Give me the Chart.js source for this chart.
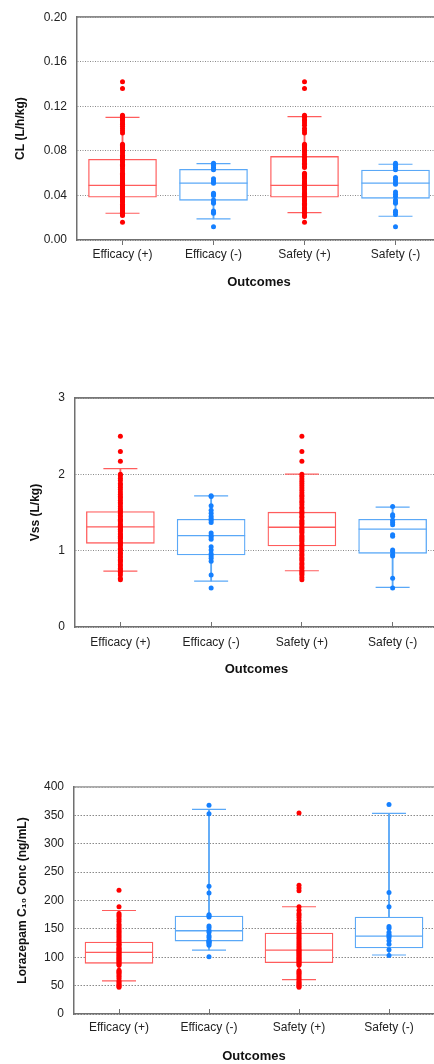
<!DOCTYPE html>
<html>
<head>
<meta charset="utf-8">
<script src="https://cdn.jsdelivr.net/npm/chart.js@4.4.1/dist/chart.umd.min.js"></script>
<style>
html, body { margin: 0; padding: 0; background: #ffffff; width: 434px; height: 1064px; overflow: hidden; position: relative; }
.wrap { position: absolute; left: 0; }
canvas { display: block; }
</style>
</head>
<body>
<div class="wrap" style="top:0px"><canvas id="c1" width="441" height="300"></canvas></div>
<div class="wrap" style="top:330px"><canvas id="c2" width="438" height="357"></canvas></div>
<div class="wrap" style="top:760px"><canvas id="c3" width="434" height="314"></canvas></div>
<script>
// ---------- shared ----------
const categories = ['Efficacy (+)', 'Efficacy (-)', 'Safety (+)', 'Safety (-)'];
const xTitle = 'Outcomes';

// ---------- Chart 1: CL ----------
const clTitle = 'CL (L/h/kg)';
const clTicks = [0, 0.04, 0.08, 0.12, 0.16, 0.20];
const clTickLabels = ['0.00', '0.04', '0.08', '0.12', '0.16', '0.20'];
const clQ1 = [0.0385, 0.0356, 0.0385, 0.0374];
const clMedian = [0.049, 0.0511, 0.049, 0.0511];
const clQ3 = [0.0724, 0.0634, 0.075, 0.0628];
const clWhiskLow = [0.024, 0.019, 0.0245, 0.0213];
const clWhiskHigh = [0.110, 0.0686, 0.1107, 0.068];
const clEffPos = [0.016, 0.022, 0.023, 0.024, 0.025, 0.026, 0.027, 0.028, 0.029, 0.030, 0.031, 0.032, 0.034, 0.035, 0.036, 0.037, 0.038, 0.039, 0.040, 0.041, 0.042, 0.043, 0.044, 0.045, 0.046, 0.047, 0.048, 0.049, 0.050, 0.051, 0.052, 0.053, 0.054, 0.055, 0.056, 0.057, 0.058, 0.059, 0.060, 0.062, 0.064, 0.066, 0.067, 0.068, 0.070, 0.071, 0.072, 0.073, 0.074, 0.075, 0.076, 0.078, 0.080, 0.081, 0.082, 0.083, 0.084, 0.085, 0.086, 0.096, 0.098, 0.100, 0.102, 0.104, 0.105, 0.107, 0.108, 0.109, 0.110, 0.111, 0.112, 0.136, 0.142];
const clEffNeg = [0.012, 0.024, 0.025, 0.026, 0.033, 0.034, 0.036, 0.040, 0.041, 0.042, 0.051, 0.052, 0.053, 0.055, 0.063, 0.064, 0.065, 0.067, 0.068, 0.069];
const clSafPos = [0.016, 0.021, 0.022, 0.024, 0.025, 0.027, 0.028, 0.029, 0.031, 0.032, 0.033, 0.035, 0.036, 0.037, 0.039, 0.040, 0.041, 0.042, 0.043, 0.045, 0.046, 0.047, 0.048, 0.050, 0.051, 0.052, 0.053, 0.055, 0.056, 0.057, 0.058, 0.059, 0.060, 0.065, 0.066, 0.068, 0.069, 0.071, 0.072, 0.074, 0.075, 0.077, 0.079, 0.080, 0.081, 0.082, 0.083, 0.084, 0.085, 0.086, 0.096, 0.098, 0.100, 0.103, 0.105, 0.107, 0.108, 0.110, 0.111, 0.112, 0.136, 0.142];
const clSafNeg = [0.012, 0.023, 0.025, 0.026, 0.033, 0.034, 0.036, 0.039, 0.041, 0.043, 0.050, 0.052, 0.054, 0.056, 0.063, 0.065, 0.067, 0.069];

// ---------- Chart 2: Vss ----------
const vssTitle = 'Vss (L/kg)';
const vssTicks = [0, 1, 2, 3];
const vssTickLabels = ['0', '1', '2', '3'];
const vssQ1 = [1.096, 0.943, 1.061, 0.965];
const vssMedian = [1.311, 1.197, 1.307, 1.281];
const vssQ3 = [1.513, 1.412, 1.504, 1.412];
const vssWhiskLow = [0.732, 0.601, 0.737, 0.518];
const vssWhiskHigh = [2.075, 1.719, 2.004, 1.570];
const vssEffPos = [0.62, 0.64, 0.68, 0.71, 0.73, 0.75, 0.77, 0.80, 0.82, 0.85, 0.87, 0.88, 0.91, 0.93, 0.96, 0.97, 1.00, 1.02, 1.03, 1.06, 1.08, 1.10, 1.11, 1.13, 1.16, 1.17, 1.19, 1.21, 1.22, 1.25, 1.27, 1.28, 1.30, 1.32, 1.33, 1.35, 1.38, 1.40, 1.41, 1.44, 1.46, 1.49, 1.51, 1.53, 1.55, 1.58, 1.61, 1.63, 1.66, 1.69, 1.71, 1.74, 1.77, 1.80, 1.83, 1.86, 1.88, 1.92, 1.95, 1.98, 2.00, 2.17, 2.30, 2.50];
const vssEffNeg = [0.51, 0.68, 0.86, 0.90, 0.93, 0.96, 1.01, 1.05, 1.15, 1.18, 1.20, 1.23, 1.37, 1.40, 1.42, 1.45, 1.49, 1.53, 1.59, 1.71, 1.72];
const vssSafPos = [0.62, 0.65, 0.68, 0.70, 0.72, 0.74, 0.77, 0.79, 0.82, 0.84, 0.87, 0.89, 0.91, 0.94, 0.96, 0.99, 1.01, 1.03, 1.05, 1.07, 1.09, 1.12, 1.14, 1.16, 1.18, 1.20, 1.23, 1.25, 1.27, 1.29, 1.31, 1.34, 1.36, 1.38, 1.40, 1.43, 1.45, 1.48, 1.50, 1.52, 1.55, 1.57, 1.60, 1.63, 1.65, 1.68, 1.71, 1.73, 1.76, 1.79, 1.82, 1.85, 1.88, 1.91, 1.94, 1.97, 2.00, 2.17, 2.30, 2.50];
const vssSafNeg = [0.51, 0.64, 0.93, 0.95, 0.99, 1.01, 1.19, 1.21, 1.34, 1.37, 1.40, 1.45, 1.47, 1.58];

// ---------- Chart 3: Lorazepam C10 concentration ----------
const concTitle = 'Lorazepam C\u2081\u2080 Conc (ng/mL)';
const concTicks = [0, 50, 100, 150, 200, 250, 300, 350, 400];
const concTickLabels = ['0', '50', '100', '150', '200', '250', '300', '350', '400'];
const concQ1 = [89.3, 128.5, 90.5, 116.3];
const concMedian = [108.6, 146.7, 112.7, 137.4];
const concQ3 = [126.8, 172.5, 142.6, 170.7];
const concWhiskLow = [58.3, 112.7, 60.6, 104];
const concWhiskHigh = [182.4, 360.5, 189, 353.4];
const concEffPos = [47, 49, 51, 53, 56, 58, 62, 65, 68, 71, 73, 75, 77, 86, 88, 90, 92, 94, 96, 98, 100, 102, 104, 106, 108, 110, 112, 114, 116, 118, 121, 123, 125, 128, 131, 134, 137, 140, 143, 146, 149, 152, 155, 158, 163, 167, 171, 174, 177, 189, 218];
const concEffNeg = [101, 121, 124, 126, 127, 128, 130, 135, 138, 144, 147, 152, 155, 171, 173, 175, 213, 225, 353, 368];
const concSafPos = [47, 49, 51, 53, 55, 57, 60, 63, 66, 69, 72, 74, 76, 86, 88, 90, 92, 94, 96, 98, 100, 102, 104, 106, 108, 110, 112, 114, 117, 120, 123, 126, 129, 132, 135, 138, 141, 144, 147, 150, 153, 156, 160, 165, 170, 174, 177, 183, 189, 217, 222, 227, 354];
const concSafNeg = [103, 113, 123, 129, 135, 138, 140, 144, 151, 154, 189, 214, 369];

// ---------- styling ----------
const boxColors = ['#ff5c5c', '#5aa8f7', '#ff5c5c', '#5aa8f7'];
const pointColors = ['#ff0000', '#1580ff', '#ff0000', '#1580ff'];

Chart.defaults.font.family = "'Liberation Sans', Arial, Helvetica, sans-serif";
Chart.defaults.color = '#222';

function buildChart(id, d, g) {
  const pointSets = d.points.map((arr, ci) => ({
    type: 'scatter',
    data: arr.map(v => ({ x: categories[ci], y: v })),
    pointRadius: 2.5,
    pointBackgroundColor: pointColors[ci],
    pointBorderWidth: 0,
    order: 1
  }));
  const datasets = [
    { // whisker stems
      type: 'bar',
      data: d.lo.map((l, i) => [l, d.hi[i]]),
      backgroundColor: boxColors,
      borderWidth: 0,
      barThickness: 1.2,
      grouped: false,
      order: 6
    },
    { // upper caps
      type: 'scatter',
      data: categories.map((c, i) => ({ x: c, y: d.hi[i] })),
      pointStyle: 'line', pointRadius: 17,
      pointBorderColor: boxColors, pointBorderWidth: 1.2,
      order: 5
    },
    { // lower caps
      type: 'scatter',
      data: categories.map((c, i) => ({ x: c, y: d.lo[i] })),
      pointStyle: 'line', pointRadius: 17,
      pointBorderColor: boxColors, pointBorderWidth: 1.2,
      order: 5
    },
    { // boxes
      type: 'bar',
      data: d.q1.map((q, i) => [q, d.q3[i]]),
      backgroundColor: '#ffffff',
      borderColor: boxColors,
      borderWidth: 1.3,
      borderSkipped: false,
      barThickness: 68,
      grouped: false,
      order: 4
    },
    { // medians
      type: 'scatter',
      data: categories.map((c, i) => ({ x: c, y: d.med[i] })),
      pointStyle: 'line', pointRadius: 34,
      pointBorderColor: boxColors, pointBorderWidth: 1.3,
      order: 3
    }
  ].concat(pointSets);

  return new Chart(document.getElementById(id), {
    type: 'bar',
    data: { labels: categories, datasets: datasets },
    options: {
      responsive: false,
      animation: false,
      events: [],
      layout: { autoPadding: false, padding: { top: g.padTop, left: 0, right: 0, bottom: 0 } },
      plugins: { legend: { display: false }, tooltip: { enabled: false } },
      scales: {
        x: {
          type: 'category',
          offset: true,
          grid: { display: true, drawOnChartArea: false, drawTicks: true, tickLength: g.xTickLen, offset: false, color: '#707070', tickColor: '#707070', lineWidth: 1 },
          border: { display: true, color: '#707070', width: 1.5 },
          ticks: { padding: g.xTickPad, color: '#222', font: { size: 12 }, maxRotation: 0, autoSkip: false },
          title: { display: true, text: xTitle, color: '#111', font: { size: 13, weight: 'bold' }, padding: { top: 0, bottom: 10 } },
          afterFit: s => { s.height = 60; }
        },
        xTop: {
          type: 'category',
          position: 'top',
          offset: true,
          grid: { display: false, drawTicks: false },
          ticks: { display: false },
          border: { display: true, color: g.topColor, width: 1.8 },
          afterFit: s => { s.height = 0; }
        },
        y: {
          min: d.ticks[0],
          max: d.ticks[d.ticks.length - 1],
          afterBuildTicks: s => { s.ticks = d.ticks.map(v => ({ value: v })); },
          grid: { color: '#8a8a8a', lineWidth: 1, drawTicks: false },
          border: { display: true, color: '#707070', width: 1.5, dash: g.dash },
          ticks: { padding: 10, color: '#222', font: { size: 12 }, callback: (v, i) => d.tickLabels[i] },
          title: { display: true, text: d.title, color: '#111', font: { size: 12, weight: 'bold' }, padding: { top: g.yTitlePad, bottom: 0 } },
          afterFit: s => { s.width = g.yWidth; }
        }
      }
    }
  });
}

buildChart('c1', {
  title: clTitle, ticks: clTicks, tickLabels: clTickLabels,
  q1: clQ1, q3: clQ3, med: clMedian, lo: clWhiskLow, hi: clWhiskHigh,
  points: [clEffPos, clEffNeg, clSafPos, clSafNeg]
}, { padTop: 11, yWidth: 77, xTickLen: 5, xTickPad: 2, yTitlePad: 13, topColor: '#8a8a8a', dash: [1, 1.5] });

buildChart('c2', {
  title: vssTitle, ticks: vssTicks, tickLabels: vssTickLabels,
  q1: vssQ1, q3: vssQ3, med: vssMedian, lo: vssWhiskLow, hi: vssWhiskHigh,
  points: [vssEffPos, vssEffNeg, vssSafPos, vssSafNeg]
}, { padTop: 68, yWidth: 75, xTickLen: -5, xTickPad: 13, yTitlePad: 28, topColor: '#777777', dash: [1, 1.5] });

buildChart('c3', {
  title: concTitle, ticks: concTicks, tickLabels: concTickLabels,
  q1: concQ1, q3: concQ3, med: concMedian, lo: concWhiskLow, hi: concWhiskHigh,
  points: [concEffPos, concEffNeg, concSafPos, concSafNeg]
}, { padTop: 27, yWidth: 74, xTickLen: -5, xTickPad: 11, yTitlePad: 15, topColor: '#aaaaaa', dash: [1.5, 1.5] });
</script>
</body>
</html>
